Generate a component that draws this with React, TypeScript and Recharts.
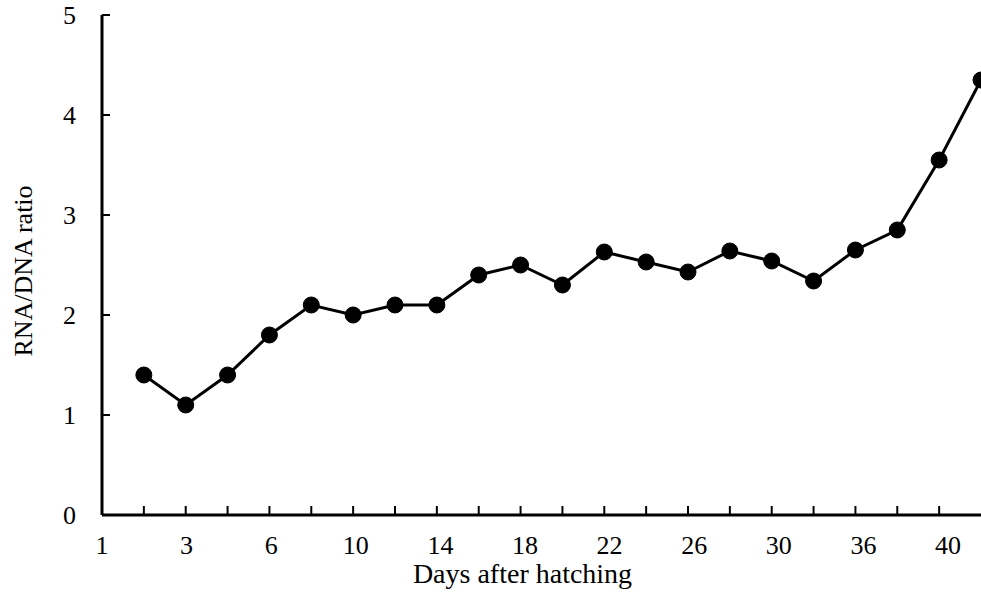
import React from "react";
import {Line, LineChart, XAxis, YAxis} from "recharts";

// sampling points (one per measurement, in order)
const samplePoints = [1, 2, 3, 4, 5, 6, 7, 8, 9, 10, 11, 12, 13, 14, 15, 16, 17, 18, 19, 20, 21];
const rnaDnaRatio = [1.4, 1.1, 1.4, 1.8, 2.1, 2.0, 2.1, 2.1, 2.4, 2.5, 2.3, 2.63, 2.53, 2.43, 2.64, 2.54, 2.34, 2.65, 2.85, 3.55, 4.35];
const dayLabels = ["1", "3", "6", "10", "14", "18", "22", "26", "30", "36", "40"];
const yTicks = [0, 1, 2, 3, 4, 5];

const data = samplePoints.map((s, i) => ({sample: s, ratio: rnaDnaRatio[i]}));

// the day labels are spread evenly, not on the tick marks
const labelStep = 1.925;
const labelTicks = dayLabels.map((_, i) => i * labelStep);

const font = "'Liberation Serif', 'Times New Roman', serif";
const Y_MARGIN = 26;

// inward tick mark on the x axis, no text
const XMark = (props: any) => {
    const {x, y} = props;
    return <line x1={x} x2={x} y1={y} y2={y - 9} stroke="#000" strokeWidth={2}/>;
};

// y label plus a tick mark pointing into the plot
const YTick = (props: any) => {
    const {x, y, payload} = props;
    const ax = x + Y_MARGIN;
    return (
        <g>
            <text x={x} y={y} dy="0.35em" textAnchor="end" fill="#000" fontSize={26} fontFamily={font}>
                {payload.value}
            </text>
            {payload.value > 0 && <line x1={ax} x2={ax + 8} y1={y} y2={y} stroke="#000" strokeWidth={2}/>}
        </g>
    );
};

const YTitle = (props: any) => {
    const {viewBox} = props;
    const x = viewBox.x + 32;
    const y = viewBox.y + viewBox.height / 2 + 6;
    return (
        <text x={x} y={y} transform={`rotate(-90, ${x}, ${y})`} textAnchor="middle"
              fill="#000" fontSize={26} fontFamily={font}>
            RNA/DNA ratio
        </text>
    );
};

export default function App() {
    return (
        <div style={{position: "absolute", left: 0, top: 0}}>
            <LineChart width={981} height={613} data={data} margin={{top: 15, right: 0, bottom: 0, left: 0}}>
                <XAxis xAxisId="day" dataKey="sample" type="number" domain={[0, 21]}
                       ticks={samplePoints.slice(0, 20)} tickSize={0} tickMargin={0} height={1}
                       tickLine={false} tick={<XMark/>} interval={0}
                       axisLine={{stroke: "#000", strokeWidth: 3}}/>
                <XAxis xAxisId="lab" type="number" domain={[0, 21]} ticks={labelTicks} interval={0}
                       tickFormatter={(v: number, i: number) => dayLabels[i]}
                       axisLine={false} tickLine={false} tickSize={0} tickMargin={20} height={97}
                       tick={{fill: "#000", fontSize: 26, fontFamily: font}}
                       label={{value: "Days after hatching", position: "insideBottom", offset: 30, dx: -19,
                           fill: "#000", fontSize: 28, fontFamily: font}}/>
                <YAxis yAxisId="left" domain={[0, 5]} ticks={yTicks} width={102} interval={0}
                       tickSize={0} tickMargin={Y_MARGIN} tickLine={false}
                       axisLine={{stroke: "#000", strokeWidth: 3}}
                       tick={<YTick/>}
                       label={<YTitle/>}/>
                <Line xAxisId="day" yAxisId="left" dataKey="ratio" type="linear"
                      stroke="#000" strokeWidth={3}
                      dot={{r: 8, fill: "#000", stroke: "#000", strokeWidth: 1}}
                      isAnimationActive={false}/>
            </LineChart>
        </div>
    );
}
